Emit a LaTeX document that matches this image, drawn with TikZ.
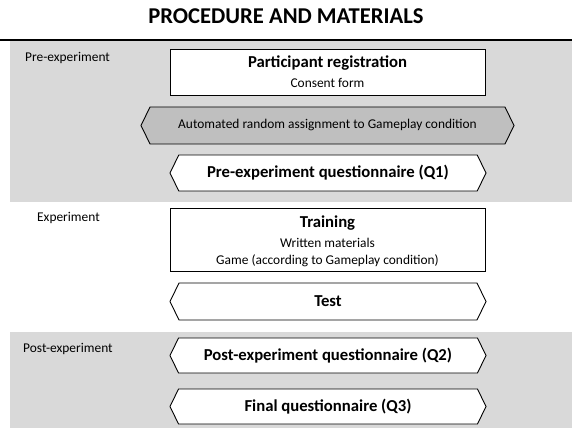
\documentclass[tikz,border=0pt]{standalone}
\usepackage{fontspec}
\setmainfont{Carlito}
\usetikzlibrary{shapes.symbols}
\definecolor{band}{HTML}{D9D9D9}
\definecolor{hexgray}{HTML}{BFBFBF}
\tikzset{
  stagebox/.style={draw=black, line width=0.9bp, fill=white, rectangle, inner sep=0pt},
  hexbox/.style={draw=black, line width=0.9bp, fill=white, shape=signal, signal to=west and east, signal pointer angle=128, inner sep=0pt},
  phase/.style={anchor=west, font=\fontsize{13.4bp}{15bp}\selectfont, inner sep=0pt},
  boldtxt/.style={font=\bfseries\fontsize{16.7bp}{19bp}\selectfont, inner sep=0pt},
  plaintxt/.style={font=\fontsize{13.4bp}{15bp}\selectfont, inner sep=0pt}
}
\begin{document}
\begin{tikzpicture}[x=1bp,y=-1bp]
\useasboundingbox (0,0) rectangle (572,437);
\fill[white] (0,0) rectangle (572,437);
\node[font=\bfseries\fontsize{22.6bp}{26bp}\selectfont, inner sep=0pt] (title) at (286,16.5) {PROCEDURE AND MATERIALS};
\fill[band] (10,41) rectangle (572,202);
\fill[band] (10,332) rectangle (572,428);
\draw[line width=2.5bp] (0,40) -- (572,40);
% phase labels
\node[phase] (pre) at (25,58) {Pre-experiment};
\node[phase] (exp) at (37,218) {Experiment};
\node[phase] (post) at (23,349) {Post-experiment};
% boxes
\node[stagebox, minimum width=315bp, minimum height=46bp] (reg) at (327.5,72) {};
\node[boldtxt] (regt) at (327.5,63) {Participant registration};
\node[plaintxt] (regs) at (327.5,83) {Consent form};
\node[hexbox, fill=hexgray, minimum width=373bp, minimum height=37bp] (auto) at (327.5,125.5) {};
\node[plaintxt] (autot) at (327.5,125.5) {Automated random assignment to Gameplay condition};
\node[hexbox, minimum width=316bp, minimum height=36bp] (q1) at (328,173) {};
\node[boldtxt] (q1t) at (328,173) {Pre-experiment questionnaire (Q1)};
\node[stagebox, minimum width=315bp, minimum height=63bp] (train) at (327.5,239.5) {};
\node[boldtxt] (traint) at (327.5,223) {Training};
\node[plaintxt] (trains1) at (327.5,243) {Written materials};
\node[plaintxt] (trains2) at (327.5,261) {Game (according to Gameplay condition)};
\node[hexbox, minimum width=316bp, minimum height=37bp] (test) at (328,301.5) {};
\node[boldtxt] (testt) at (328,301.5) {Test};
\node[hexbox, minimum width=316bp, minimum height=35bp] (q2) at (328,355.5) {};
\node[boldtxt] (q2t) at (328,355.5) {Post-experiment questionnaire (Q2)};
\node[hexbox, minimum width=316bp, minimum height=35bp] (q3) at (328,406.5) {};
\node[boldtxt] (q3t) at (328,406.5) {Final questionnaire (Q3)};
\end{tikzpicture}
\end{document}
